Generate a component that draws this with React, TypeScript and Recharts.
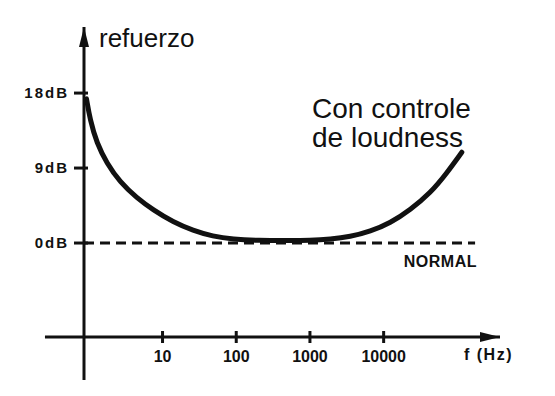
import { LineChart, Line, XAxis, YAxis, ReferenceLine, ReferenceDot } from "recharts";

// loudness curve (frequency in Hz, boost in dB)
const freqHz = [0.93, 1.04, 1.28, 1.75, 2.65, 4.5, 7.4, 14, 26, 48, 90, 200, 500, 1000, 1900, 3500, 6600, 12300, 23000, 43000, 72000, 115000];
const boostDb = [17.3, 14.8, 12.0, 9.6, 7.3, 5.4, 4.0, 2.5, 1.5, 0.8, 0.45, 0.3, 0.3, 0.3, 0.45, 0.75, 1.4, 2.4, 4.0, 6.0, 8.4, 10.9];

// flat "normal" response
const normalHz = [0.86, 174000];
const normalDb = [0, 0];

const freqTicks = [10, 100, 1000, 10000];
const dbTicks = [0, 9, 18];
const dbTickLabels = ["0dB", "9dB", "18dB"];

const xDomain = [0.86, 379000];
const yDomain = [-11.28, 25.93];
// axis overhang past the origin
const xAxisStartHz = 0.254;
const yAxisEndDb = -16.44;

const INK = "#111";
const FONT = "'Liberation Sans', Arial, sans-serif";

const curveData = freqHz.map((hz, i) => ({ hz, db: boostDb[i] }));
const normalData = normalHz.map((hz, i) => ({ hz, db: normalDb[i] }));

const FreqTick = (props: any) => {
  const { x, y, payload } = props;
  return (
    <g>
      <line x1={x} x2={x} y1={y - 6} y2={y + 6} stroke={INK} strokeWidth={3} />
      <text x={x} y={y + 25} textAnchor="middle" fontSize={16} fontWeight="bold" fill={INK} fontFamily={FONT}>
        {payload.value}
      </text>
    </g>
  );
};

const DbTick = (props: any) => {
  const { x, y, payload } = props;
  const label = dbTickLabels[dbTicks.indexOf(payload.value)];
  return (
    <g>
      <line x1={x - 10} x2={x + 4} y1={y} y2={y} stroke={INK} strokeWidth={3} />
      <text x={x - 15} y={y + 5} textAnchor="end" fontSize={15} fontWeight="bold" letterSpacing={2} fill={INK} fontFamily={FONT}>
        {label}
      </text>
    </g>
  );
};

const UpArrow = (props: any) => {
  const { cx, cy } = props;
  return <polygon points={`${cx},${cy} ${cx - 5},${cy + 20} ${cx + 5},${cy + 20}`} fill={INK} />;
};

const RightArrow = (props: any) => {
  const { cx, cy } = props;
  return <polygon points={`${cx},${cy} ${cx - 20},${cy - 5} ${cx - 20},${cy + 5}`} fill={INK} />;
};

export default function App() {
  return (
    <div style={{ position: "absolute", left: 0, top: 0, background: "#fff" }}>
      <LineChart width={555} height={396} margin={{ top: 27, right: 55, bottom: 29, left: 24 }}>
        <XAxis
          dataKey="hz"
          type="number"
          scale="log"
          domain={xDomain}
          allowDataOverflow
          ticks={freqTicks}
          tick={<FreqTick />}
          tickLine={false}
          tickSize={0}
          tickMargin={0}
          height={30}
          axisLine={{ stroke: INK, strokeWidth: 3 }}
        />
        <YAxis
          type="number"
          domain={yDomain}
          allowDataOverflow
          ticks={dbTicks}
          tick={<DbTick />}
          tickLine={false}
          tickSize={0}
          tickMargin={0}
          width={60}
          axisLine={{ stroke: INK, strokeWidth: 3 }}
        />
        <ReferenceLine
          segment={[{ x: xAxisStartHz, y: yDomain[0] }, { x: xDomain[0], y: yDomain[0] }]}
          stroke={INK}
          strokeWidth={3}
          ifOverflow="visible"
        />
        <ReferenceLine
          segment={[{ x: xDomain[0], y: yDomain[0] }, { x: xDomain[0], y: yAxisEndDb }]}
          stroke={INK}
          strokeWidth={3}
          ifOverflow="visible"
        />
        <ReferenceDot x={xDomain[0]} y={yDomain[1]} ifOverflow="visible" shape={<UpArrow />} />
        <ReferenceDot x={xDomain[1]} y={yDomain[0]} ifOverflow="visible" shape={<RightArrow />} />
        <Line
          data={normalData}
          dataKey="db"
          type="linear"
          stroke={INK}
          strokeWidth={3}
          strokeDasharray="10 6"
          dot={false}
          isAnimationActive={false}
        />
        <Line
          data={curveData}
          dataKey="db"
          type="basis"
          stroke={INK}
          strokeWidth={5}
          strokeLinecap="round"
          dot={false}
          isAnimationActive={false}
        />
        <text x={99} y={47} fontSize={26} fill={INK} fontFamily={FONT}>refuerzo</text>
        <text x={312} y={118} fontSize={28} fill={INK} fontFamily={FONT}>Con controle</text>
        <text x={312} y={147} fontSize={28} fill={INK} fontFamily={FONT}>de loudness</text>
        <text x={477} y={267} textAnchor="end" fontSize={16} fontWeight="bold" letterSpacing={0.5} fill={INK} fontFamily={FONT}>NORMAL</text>
        <text x={464} y={360} fontSize={16} fontWeight="bold" letterSpacing={1.5} fill={INK} fontFamily={FONT}>f (Hz)</text>
      </LineChart>
    </div>
  );
}
